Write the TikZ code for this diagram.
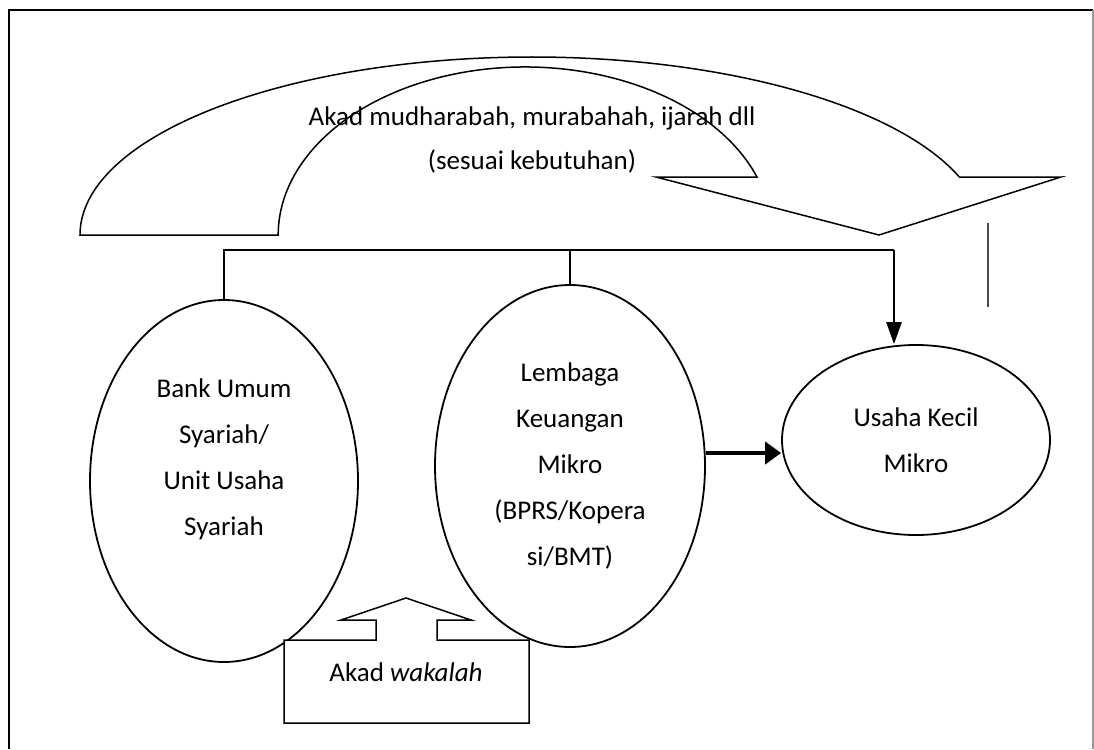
\documentclass[tikz,border=0pt]{standalone}
\usepackage{fontspec}
\setmainfont{Carlito}
\usetikzlibrary{shapes.geometric,arrows.meta}

\begin{document}
\begin{tikzpicture}[x=1pt,y=1pt,line join=miter]
\tikzstyle{oval}=[ellipse,draw,line width=1.8pt,inner sep=0pt,align=center,font=\fontsize{27pt}{46pt}\selectfont]
\tikzstyle{words}=[align=center,inner sep=0pt,font=\fontsize{27pt}{46pt}\selectfont]
\tikzstyle{link}=[line width=1.5pt]
\useasboundingbox (0,0) rectangle (1094,-749);
\draw[line width=2.4pt] (9,-749) -- (9,-10) -- (1093,-10);
\draw[line width=1.2pt,black!40] (1093,-10) -- (1093,-749);
\draw[link] (80,-235) arc[start angle=180,end angle=19,x radius=452,y radius=178] -- (1061,-177) -- (879,-235) -- (656,-177) -- (757,-177) arc[start angle=20.2,end angle=180,x radius=247,y radius=168] -- cycle;
\node[words,font=\fontsize{27pt}{44pt}\selectfont] (deal) at (532,-140) {Akad mudharabah, murabahah, ijarah dll\\(sesuai kebutuhan)};
\node[oval,minimum width=268pt,minimum height=362pt] (bus) at (224,-481) {};
\node[words] (bustxt) at (224,-459) {Bank Umum\\Syariah/\\Unit Usaha\\Syariah};
\node[oval,minimum width=270pt,minimum height=362pt] (lkm) at (570,-466) {Lembaga\\Keuangan\\Mikro\\(BPRS/Kopera\\si/BMT)};
\node[oval,minimum width=268pt,minimum height=190pt] (ukm) at (916,-440) {Usaha Kecil\\Mikro};
\coordinate (split) at (894,-250);
\draw[link] (bus.north) |- (split);
\draw[link] (lkm.north) -- (lkm.north |- split);
\draw[line width=2.6pt,-{Triangle[length=22pt,width=15pt]}] (split) -- (split |- ukm.north);
\coordinate (feed) at ([yshift=13pt]lkm.east);
\draw[line width=4pt,-{Triangle[length=16pt,width=22pt]}] (feed) -- (feed -| ukm.west);
\coordinate (tickup) at (988,-223);
\coordinate (tickdn) at (988,-307);
\draw[line width=1.2pt,black!70] (tickup) -- (tickdn);
\draw[link,fill=white] (284,-640) -- (376,-640) -- (376,-620) -- (341,-620) -- (406,-598) -- (471,-620) -- (437,-620) -- (437,-640) -- (529,-640) -- (529,-723) -- (284,-723) -- cycle;
\node[words] (wakalah) at (406,-672) {Akad \textit{wakalah}};
\end{tikzpicture}
\end{document}
